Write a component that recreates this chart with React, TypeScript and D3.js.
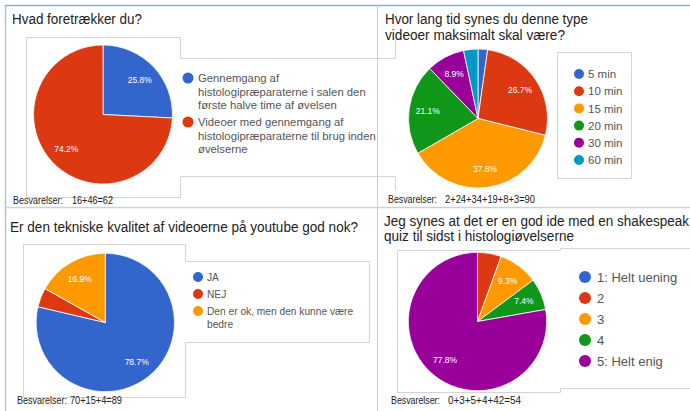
import React from "react";
import * as d3 from "d3";

const COLORS = ["#3366cc", "#dc3912", "#ff9900", "#109618", "#990099", "#0099c6"];

const q1Title = ["Hvad foretrækker du?"];
const q1Categories = [
  ["Gennemgang af", "histologipræparaterne i salen den", "første halve time af øvelsen"],
  ["Videoer med gennemgang af", "histologipræparaterne til brug inden", "øvelserne"],
];
const q1Values = [16, 46];
const q1Answers = ["Besvarelser:", "16+46=62"];

const q2Title = ["Hvor lang tid synes du denne type", "videoer maksimalt skal være?"];
const q2Categories = [["5 min"], ["10 min"], ["15 min"], ["20 min"], ["30 min"], ["60 min"]];
const q2Values = [2, 24, 34, 19, 8, 3];
const q2Answers = ["Besvarelser:", "2+24+34+19+8+3=90"];

const q3Title = ["Er den tekniske kvalitet af videoerne på youtube god nok?"];
const q3Categories = [["JA"], ["NEJ"], ["Den er ok, men den kunne være", "bedre"]];
const q3Values = [70, 4, 15];
const q3Answers = ["Besvarelser:", "70+15+4=89"];

const q4Title = ["Jeg synes at det er en god ide med en shakespeak", "quiz til sidst i histologiøvelserne"];
const q4Categories = [["1: Helt uening"], ["2"], ["3"], ["4"], ["5: Helt enig"]];
const q4Values = [0, 3, 5, 4, 42];
const q4Answers = ["Besvarelser:", "0+3+5+4+42=54"];

const FONT = "Liberation Sans, Arial, sans-serif";

type PieProps = { cx: number; cy: number; r: number; values: number[] };

function Pie({ cx, cy, r, values }: PieProps) {
  const total = d3.sum(values);
  const pie = d3.pie<number>().sort(null).value((d) => d)(values);
  const arc = d3.arc<d3.PieArcDatum<number>>().innerRadius(0).outerRadius(r);
  const labelArc = d3.arc<d3.PieArcDatum<number>>().innerRadius(r * 0.73).outerRadius(r * 0.73);
  return (
    <g transform={`translate(${cx},${cy})`}>
      {pie.map((p, i) =>
        p.value > 0 ? <path key={i} d={arc(p) || ""} fill={COLORS[i]} stroke="#fff" strokeWidth={0.8} /> : null
      )}
      {pie.map((p, i) => {
        const frac = p.value / total;
        if (frac < 0.07) return null;
        const [x, y] = labelArc.centroid(p);
        return (
          <text key={"l" + i} x={x} y={y} dy="0.35em" textAnchor="middle" fill="#fff" fontSize={8.5} fontFamily={FONT}>
            {(frac * 100).toFixed(1) + "%"}
          </text>
        );
      })}
    </g>
  );
}

type LegendProps = {
  x: number;
  y: number;
  items: string[][];
  itemGap: number;
  lineGap: number;
  fontSize: number;
  r: number;
  textDx: number;
};

function Legend({ x, y, items, itemGap, lineGap, fontSize, r, textDx }: LegendProps) {
  return (
    <g fontFamily={FONT} fontSize={fontSize} fill="#555">
      {items.map((lines, i) => {
        const yy = y + i * itemGap;
        return (
          <g key={i}>
            <circle cx={x} cy={yy} r={r} fill={COLORS[i]} />
            {lines.map((t, j) => (
              <text key={j} x={x + textDx} y={yy + j * lineGap} dy="0.36em">
                {t}
              </text>
            ))}
          </g>
        );
      })}
    </g>
  );
}

function Title({ x, ys, lines, size, lengths }: { x: number; ys: number[]; lines: string[]; size: number; lengths: number[] }) {
  return (
    <g fontFamily={FONT} fontSize={size} fill="#222">
      {lines.map((t, i) => (
        <text key={i} x={x} y={ys[i]} textLength={lengths[i]} lengthAdjust="spacingAndGlyphs">
          {t}
        </text>
      ))}
    </g>
  );
}

function Answers({ x, y, parts, x2, w1, w2 }: { x: number; y: number; parts: string[]; x2: number; w1: number; w2: number }) {
  return (
    <g fontFamily={FONT} fontSize={10.5} fill="#222">
      <text x={x} y={y} textLength={w1} lengthAdjust="spacingAndGlyphs">{parts[0]}</text>
      <text x={x2} y={y} textLength={w2} lengthAdjust="spacingAndGlyphs">{parts[1]}</text>
    </g>
  );
}

const P = "#d4d4d4";

export default function App() {
  return (
    <svg width={690} height={411} style={{ position: "absolute", left: 0, top: 0, background: "#fff" }}>
      <g stroke={P} strokeWidth={1} fill="none">
        <path d="M26.5,37.5 V197.5 M26.5,37.5 H180.5 V58.5 H395.5 V40 M180.5,176.5 H395.5 V190 M180.5,176.5 V197.5 H26.5" />
        <path d="M557.5,52.5 H631.5 V178.5 H557.5 Z" />
        <path d="M23.5,244.5 V397.5 H185.5 V342.5 H369.5 V261.5 H185.5 V244.5 H23.5" />
        <path d="M397.5,250.5 V392.5 H560.5 M397.5,250.5 H560.5 V248.5 H690 M560.5,392.5 V388.5 H690" />
      </g>
      <line x1={5} y1={5.5} x2={690} y2={5.5} stroke="#8eaad0" strokeWidth={1.5} />
      <line x1={5.5} y1={5} x2={5.5} y2={411} stroke="#b3c2d6" strokeWidth={1.5} />
      <line x1={377.5} y1={5} x2={377.5} y2={411} stroke="#bcd0e8" strokeWidth={1} />
      <line x1={5} y1={207.5} x2={690} y2={207.5} stroke="#c9d3df" strokeWidth={1.5} />

      {/* Q1 */}
      <Title x={12} ys={[24]} lines={q1Title} size={14} lengths={[130]} />
      <Pie cx={103} cy={114.5} r={69.5} values={q1Values} />
      <Legend x={188} y={78} items={q1Categories} itemGap={44} lineGap={13.5} fontSize={11.3} r={5.5} textDx={10} />
      <Answers x={13} y={204} parts={q1Answers} x2={72} w1={50} w2={41} />

      {/* Q2 */}
      <Title x={385} ys={[24, 40]} lines={q2Title} size={14} lengths={[203, 180]} />
      <Pie cx={478} cy={118.5} r={69.5} values={q2Values} />
      <Legend x={579} y={74} items={q2Categories} itemGap={17.2} lineGap={13} fontSize={11.5} r={5} textDx={9} />
      <Answers x={388} y={203} parts={q2Answers} x2={445} w1={49} w2={90} />

      {/* Q3 */}
      <Title x={10} ys={[232]} lines={q3Title} size={14} lengths={[348]} />
      <Pie cx={105.3} cy={322.5} r={69.2} values={q3Values} />
      <Legend x={198} y={277} items={q3Categories} itemGap={17} lineGap={13} fontSize={10.2} r={5} textDx={9} />
      <Answers x={17} y={404} parts={q3Answers} x2={70} w1={50} w2={52} />

      {/* Q4 */}
      <Title x={384} ys={[226, 241]} lines={q4Title} size={14} lengths={[305, 190]} />
      <Pie cx={477.5} cy={321.5} r={69.2} values={q4Values} />
      <Legend x={585} y={277} items={q4Categories} itemGap={21} lineGap={15} fontSize={13} r={6} textDx={12} />
      <Answers x={391} y={404} parts={q4Answers} x2={448} w1={49} w2={73} />
    </svg>
  );
}
